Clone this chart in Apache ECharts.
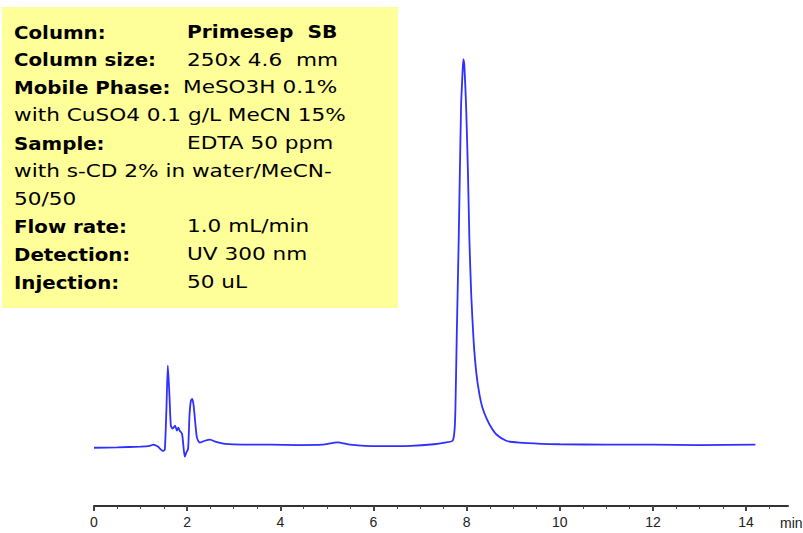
<!DOCTYPE html>
<html>
<head>
<meta charset="utf-8">
<title>Primesep SB - EDTA</title>
<script src="https://cdn.jsdelivr.net/npm/echarts@6/dist/echarts.min.js"></script>
<style>
  html, body { margin: 0; padding: 0; background: #fff; }
  #main { width: 803px; height: 533px; }
</style>
</head>
<body>
<div id="main"></div>
<script>
// retention time, min
var retentionTime = [
  0.00, 0.50, 1.00, 1.20, 1.27, 1.37, 1.48, 1.52, 1.555, 1.585,
  1.62, 1.65, 1.69, 1.74, 1.78, 1.81, 1.84, 1.89, 1.93, 1.95,
  1.98, 2.02, 2.05, 2.08, 2.11, 2.14, 2.18, 2.21, 2.27, 2.38,
  2.49, 2.62, 2.81, 3.20, 3.80, 4.40, 4.90, 5.23, 5.50, 6.10,
  6.80, 7.30, 7.53, 7.70, 7.74, 7.76, 7.79, 7.83, 7.88, 7.91,
  7.93, 7.95, 7.99, 8.03, 8.06, 8.10, 8.15, 8.21, 8.28, 8.34,
  8.43, 8.53, 8.64, 8.85, 9.13, 9.60, 10.0, 11.0, 12.0, 13.0,
  14.2
];
// detector signal (relative, main peak ~100)
var signal = [
  0.0, 0.1, 0.3, 0.5, 0.8, 0.3, -0.8, -0.5, 10, 21.2,
  13.4, 5.7, 4.9, 5.7, 4.4, 5.2, 4.4, 3.6, -0.8, -2.3,
  -1.3, -0.3, 8.3, 12.1, 12.6, 10.8, 5.7, 2.6, 1.3, 1.8,
  2.1, 1.5, 1.0, 0.8, 0.8, 0.7, 0.8, 1.4, 0.8, 0.4,
  0.5, 0.9, 1.3, 1.8, 4.4, 10.3, 30, 53.4, 87.7, 96,
  100.1, 98.8, 87.7, 70.2, 53.4, 39.2, 27.6, 19.1, 13.4, 10.3,
  7.5, 5.2, 3.4, 1.8, 1.3, 1.0, 0.9, 0.8, 0.8, 0.7,
  0.8
];
var majorTicks = [0, 2, 4, 6, 8, 10, 12, 14];
var minorTicks = [0.5, 1, 1.5, 2.5, 3, 3.5, 4.5, 5, 5.5, 6.5, 7, 7.5, 8.5, 9, 9.5,
  10.5, 11, 11.5, 12.5, 13, 13.5, 14.5];

var infoLabels = ['Column:', 'Column size:', 'Mobile Phase:', '', 'Sample:', '', '',
  'Flow rate:', 'Detection:', 'Injection:'];
var infoValues = ['Primesep  SB', '250x 4.6  mm', 'MeSO3H 0.1%', 'with CuSO4 0.1 g/L MeCN 15%',
  'EDTA 50 ppm', 'with s-CD 2% in water/MeCN-', '50/50', '1.0 mL/min', 'UV 300 nm', '50 uL'];

var FONT = '"Liberation Sans", Arial, sans-serif';
var BOX_FONT = '"DejaVu Sans", Verdana, sans-serif';

var chart = echarts.init(document.getElementById('main'), null, { renderer: 'svg' });

var points = retentionTime.map(function (t, i) { return [t, signal[i]]; });

// info box, the old bitmap font is wide so the text is stretched a bit
var boxItems = [{
  type: 'rect',
  shape: { x: 2, y: 7, width: 396, height: 301 },
  style: { fill: '#ffff99' }
}];
infoLabels.forEach(function (lab, i) {
  var y = 32 + i * 27.8;
  if (lab) {
    boxItems.push({
      type: 'text', x: 14, y: y, scaleX: 1.1,
      style: { text: lab, font: 'bold 18px ' + BOX_FONT, fill: '#000', verticalAlign: 'middle' }
    });
  }
  var bold = i === 0;
  var vx = lab ? (lab === 'Mobile Phase:' ? 183 : 187) : 14;
  boxItems.push({
    type: 'text', x: vx, y: y, scaleX: bold ? 1.12 : 1.2,
    style: {
      text: infoValues[i],
      font: (bold ? 'bold ' : '') + '18px ' + BOX_FONT,
      fill: '#000', verticalAlign: 'middle'
    }
  });
});
boxItems.push({
  type: 'text', x: 780, y: 523,
  style: { text: 'min', font: '14px ' + FONT, fill: '#222', verticalAlign: 'middle' }
});

var option = {
  animation: false,
  backgroundColor: '#fff',
  grid: { left: 94, right: 15, top: 40, bottom: 27 },
  xAxis: [
    {
      type: 'value',
      min: 0,
      max: 14.9,
      axisLine: { show: true, onZero: false, lineStyle: { color: '#333', width: 2 } },
      axisTick: { show: true, customValues: minorTicks, length: 3, lineStyle: { color: '#444', width: 1 } },
      axisLabel: {
        customValues: majorTicks, margin: 9,
        color: '#222', fontSize: 14, fontFamily: FONT
      },
      splitLine: { show: false }
    },
    {
      type: 'value',
      position: 'bottom',
      min: 0,
      max: 14.9,
      axisLine: { show: false, onZero: false },
      axisTick: { show: true, customValues: majorTicks, length: 5, lineStyle: { color: '#444', width: 2 } },
      axisLabel: { show: false },
      splitLine: { show: false }
    }
  ],
  yAxis: { type: 'value', min: -15, max: 105, show: false },
  series: [{
    type: 'line',
    data: points,
    showSymbol: false,
    smooth: 0.2,
    lineStyle: { color: '#2f2fff', width: 1.8 }
  }],
  graphic: boxItems
};
chart.setOption(option);
</script>
</body>
</html>
